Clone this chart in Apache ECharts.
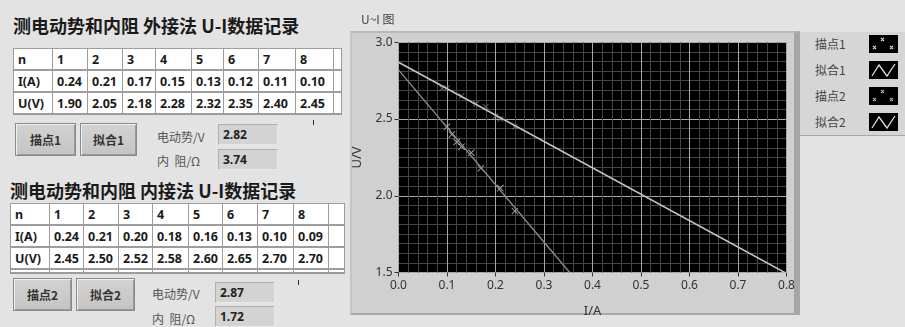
<!DOCTYPE html>
<html>
<head>
<meta charset="utf-8">
<script src="https://cdn.jsdelivr.net/npm/echarts@6/dist/echarts.min.js"></script>
<style>
  body{margin:0;width:905px;height:327px;background:#e3e3e3;overflow:hidden;position:relative;
       font-family:"Noto Sans","Noto Sans CJK SC",sans-serif;}
  .title{position:absolute;font-family:"Noto Sans CJK SC",sans-serif;font-weight:bold;font-size:18px;color:#1a1a1a;white-space:nowrap;letter-spacing:0;}
  table.data{position:absolute;border-collapse:collapse;background:#fff;table-layout:fixed;}
  table.data td{border-left:1px solid #9c9c9c;border-right:1px solid #9c9c9c;padding:0 0 0 4px;height:20px;
       font-size:12.5px;font-weight:bold;color:#1a1a1a;white-space:nowrap;overflow:hidden;}
  table.data tr{border-top:1px solid #a0a0a0;border-bottom:2px solid #9c9c9c;}
  table.data tr.pad td{height:2px;}
  .btn{position:absolute;height:33px;background:linear-gradient(#d2d2d2,#c4c4c4);border:1px solid #8a8a8a;
       box-shadow:inset 1px 1px 0 #f0f0f0, inset -1px -1px 0 #9a9a9a;box-sizing:border-box;
       font-family:"Noto Sans CJK SC",sans-serif;font-weight:bold;font-size:12px;color:#333;
       display:flex;align-items:center;justify-content:center;}
  .lbl{position:absolute;font-family:"Noto Sans CJK SC",sans-serif;font-size:12px;color:#555;white-space:nowrap;}
  .val{position:absolute;width:60px;height:21px;background:#d3d3d3;border-top:1px solid #b0b0b0;border-left:1px solid #b0b0b0;
       border-right:1px solid #e8e8e8;border-bottom:1px solid #e8e8e8;box-sizing:border-box;font-size:12px;font-weight:bold;
       color:#222;padding-left:4px;line-height:19px;}
  .mark{position:absolute;width:1px;height:5px;background:#333;}
  #frame{position:absolute;left:350px;top:31px;width:450px;height:284px;background:#d0d0d0;box-sizing:border-box;
       border-top:2px solid #b8b8b8;border-left:2px solid #c4c4c4;border-right:6px solid #a6a6a6;border-bottom:2px solid #a8a8a8;}
  #chart{position:absolute;left:340px;top:0;width:460px;height:327px;}
  #legend{position:absolute;left:800px;top:32px;width:105px;height:103px;background:#d6d6d6;border-bottom:1px solid #a8a8a8;}
  .li{position:absolute;left:15px;font-family:"Noto Sans CJK SC",sans-serif;font-size:12px;color:#444;}
  .ic{position:absolute;left:69px;width:29px;height:18px;background:#000;}
</style>
</head>
<body>
<div class="title" style="left:13px;top:12px;">测电动势和内阻 外接法 U-I数据记录</div>
<table class="data" id="t1" style="left:13px;top:48px;"></table>
<div class="mark" style="left:313px;top:120px;"></div>
<div class="btn" style="left:15px;top:123px;width:61px;">描点1</div>
<div class="btn" style="left:80px;top:123px;width:57px;">拟合1</div>
<div class="lbl" style="left:157px;top:128px;">电动势/V</div>
<div class="lbl" style="left:157px;top:152px;">内&nbsp;&nbsp;阻/Ω</div>
<div class="val" id="e1" style="left:218px;top:124px;"></div>
<div class="val" id="r1" style="left:218px;top:149px;"></div>

<div class="title" style="left:10px;top:177px;">测电动势和内阻 内接法 U-I数据记录</div>
<table class="data" id="t2" style="left:10px;top:203px;"></table>
<div class="mark" style="left:298px;top:280px;"></div>
<div class="btn" style="left:13px;top:278px;width:59px;">描点2</div>
<div class="btn" style="left:76px;top:278px;width:59px;">拟合2</div>
<div class="lbl" style="left:152px;top:285px;">电动势/V</div>
<div class="lbl" style="left:152px;top:310px;">内&nbsp;&nbsp;阻/Ω</div>
<div class="val" id="e2" style="left:215px;top:282px;"></div>
<div class="val" id="r2" style="left:215px;top:306px;"></div>

<div id="frame"></div>
<div id="chart"></div>
<div id="legend">
  <div class="li" style="top:3px;">描点1</div>
  <div class="ic" style="top:3px;"><svg width="29" height="18"><path d="M12,3 l3,3 M15,3 l-3,3 M4,11 l3,3 M7,11 l-3,3 M21,11 l3,3 M24,11 l-3,3" stroke="#ccc" stroke-width="1.2" fill="none"/></svg></div>
  <div class="li" style="top:29px;">拟合1</div>
  <div class="ic" style="top:29px;"><svg width="29" height="18"><polyline points="3,15 10,4 18,15 26,3" stroke="#ddd" stroke-width="1.3" fill="none"/></svg></div>
  <div class="li" style="top:55px;">描点2</div>
  <div class="ic" style="top:55px;"><svg width="29" height="18"><path d="M12,3 l3,3 M15,3 l-3,3 M4,11 l3,3 M7,11 l-3,3 M21,11 l3,3 M24,11 l-3,3" stroke="#aaa" stroke-width="1.2" fill="none"/></svg></div>
  <div class="li" style="top:81px;">拟合2</div>
  <div class="ic" style="top:81px;"><svg width="29" height="18"><polyline points="3,15 10,4 18,15 26,3" stroke="#ddd" stroke-width="1.3" fill="none"/></svg></div>
</div>

<script>
// 外接法 data
var nLabels = ['1','2','3','4','5','6','7','8'];
var iExt = [0.24, 0.21, 0.17, 0.15, 0.13, 0.12, 0.11, 0.10];
var uExt = [1.90, 2.05, 2.18, 2.28, 2.32, 2.35, 2.40, 2.45];
var eExt = '2.82', rExt = '3.74';
// 内接法 data
var iInt = [0.24, 0.21, 0.20, 0.18, 0.16, 0.13, 0.10, 0.09];
var uInt = [2.45, 2.50, 2.52, 2.58, 2.60, 2.65, 2.70, 2.70];
var eInt = '2.87', rInt = '1.72';
// fitted lines (end points)
var fit1 = [[0, 2.82], [0.353, 1.50]];
var fit2 = [[0, 2.87], [0.80, 1.494]];

var colW1 = [39, 35, 35, 33, 36, 32, 35, 37, 38, 8];
var colW2 = [39, 34, 35, 34, 36, 34, 35, 36, 35, 16];

function fillTable(id, widths, iv, uv, padRow) {
    var t = document.getElementById(id);
    var html = '<colgroup>';
    widths.forEach(function (w) { html += '<col style="width:' + w + 'px">'; });
    html += '</colgroup>';
    var rows = [['n'].concat(nLabels), ['I(A)'].concat(iv.map(function (v) { return v.toFixed(2); })),
                ['U(V)'].concat(uv.map(function (v) { return v.toFixed(2); }))];
    rows.forEach(function (r) {
        html += '<tr>';
        r.concat(['']).forEach(function (c) { html += '<td>' + c + '</td>'; });
        html += '</tr>';
    });
    if (padRow) {
        html += '<tr class="pad">';
        widths.forEach(function () { html += '<td></td>'; });
        html += '</tr>';
    }
    t.innerHTML = html;
    t.style.width = widths.reduce(function (a, b) { return a + b; }, 0) + 'px';
}
fillTable('t1', colW1, iExt, uExt, false);
fillTable('t2', colW2, iInt, uInt, true);
document.getElementById('e1').textContent = eExt;
document.getElementById('r1').textContent = rExt;
document.getElementById('e2').textContent = eInt;
document.getElementById('r2').textContent = rInt;

function pairs(xs, ys) {
    return xs.map(function (x, k) { return [x, ys[k]]; });
}

var xMark = 'path://M1,0 L5,4 L9,0 L10,1 L6,5 L10,9 L9,10 L5,6 L1,10 L0,9 L4,5 L0,1 Z';

var myChart = echarts.init(document.getElementById('chart'));
var option = {
    animation: false,
    title: {
        text: 'U~I 图',
        left: 16, top: 8,
        textStyle: { fontSize: 12, fontWeight: 'normal', color: '#444', fontFamily: 'Noto Sans CJK SC' }
    },
    grid: {
        left: 58.5, right: 13.5, top: 42.3, bottom: 54.5,
        show: true, backgroundColor: '#000', borderWidth: 0
    },
    xAxis: {
        type: 'value', min: 0, max: 0.8, interval: 0.1,
        name: 'I/A', nameLocation: 'middle', nameGap: 32,
        nameTextStyle: { fontSize: 13, color: '#333', fontFamily: 'Noto Sans' },
        axisLine: { show: false },
        axisTick: { show: true, length: 4, lineStyle: { color: '#333' } },
        axisLabel: { color: '#333', fontSize: 12, margin: 7, fontFamily: 'Noto Sans',
            formatter: function (v) { return v.toFixed(1); } },
        splitLine: { show: true, lineStyle: { color: '#a8a8a8', width: 1 } },
        minorTick: { show: false, splitNumber: 5 },
        minorSplitLine: { show: true, lineStyle: { color: '#454545', width: 1 } }
    },
    yAxis: {
        type: 'value', min: 1.5, max: 3.0, interval: 0.5,
        name: 'U/V', nameLocation: 'middle', nameGap: 35, nameRotate: 90,
        nameTextStyle: { fontSize: 13, color: '#333', fontFamily: 'Noto Sans' },
        axisLine: { show: false },
        axisTick: { show: true, length: 4, lineStyle: { color: '#333' } },
        axisLabel: { color: '#333', fontSize: 12, margin: 6, fontFamily: 'Noto Sans',
            formatter: function (v) { return v.toFixed(1); } },
        splitLine: { show: true, lineStyle: { color: '#a8a8a8', width: 1 } },
        minorTick: { show: false, splitNumber: 8 },
        minorSplitLine: { show: true, lineStyle: { color: '#454545', width: 1 } }
    },
    series: [
        {
            name: '拟合1', type: 'line', data: fit1, symbol: 'none',
            lineStyle: { color: '#8e8e8e', width: 1.3 }
        },
        {
            name: '拟合2', type: 'line', data: fit2, symbol: 'none',
            lineStyle: { color: '#c4c4c4', width: 1.6 }
        },
        {
            name: '描点1', type: 'scatter', data: pairs(iExt, uExt),
            symbol: xMark, symbolSize: 7, itemStyle: { color: '#c8c8c8' }
        },
        {
            name: '描点2', type: 'scatter', data: pairs(iInt, uInt),
            symbol: xMark, symbolSize: 6, itemStyle: { color: '#8a8a8a' }
        }
    ]
};
myChart.setOption(option);
</script>
</body>
</html>
